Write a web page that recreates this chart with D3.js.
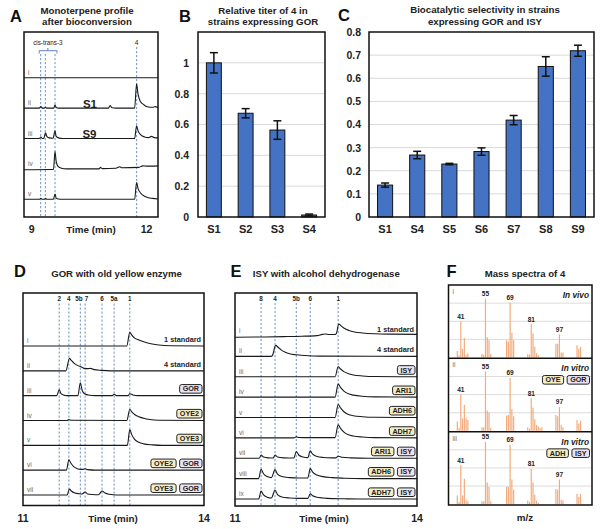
<!DOCTYPE html>
<html>
<head>
<meta charset="utf-8">
<script src="https://cdn.jsdelivr.net/npm/d3@7"></script>
<style>
  body { margin: 0; background: #fff; }
  svg { display: block; }
  text { font-family: "Liberation Sans", Arial, Helvetica, sans-serif; }
</style>
</head>
<body>
<svg id="fig" width="604" height="529"></svg>
<script>
// ---------- panel B: relative titer ----------
const titerCats = ["S1", "S2", "S3", "S4"];
const titerVals = [1.0, 0.673, 0.564, 0.013];
const titerErr = [0.066, 0.03, 0.06, 0.006];
const titerTicks = [0, 0.2, 0.4, 0.6, 0.8, 1];

// ---------- panel C: selectivity ----------
const selCats = ["S1", "S4", "S5", "S6", "S7", "S8", "S9"];
const selVals = [0.138, 0.268, 0.229, 0.283, 0.419, 0.651, 0.719];
const selErr = [0.009, 0.016, 0.003, 0.016, 0.02, 0.042, 0.024];
const selTicks = [0, 0.1, 0.2, 0.3, 0.4, 0.5, 0.6, 0.7, 0.8];

// ---------- panel A: chromatograms (time in min, signal in % of row spacing) ----------
const aRows = ["i", "ii", "iii", "iv", "v"];
const aMarks = [9.236, 9.356, 9.61, 11.743];
const aTraces = [
  [[8.8, 0], [12.3, 0]],
  [[8.8, 0], [9.2, 0], [9.24, 5], [9.28, 0], [9.33, 0], [9.36, 3], [9.39, 0], [9.58, 0], [9.61, 11], [9.64, 2], [9.7, 0],
   [11.0, 0], [11.05, 8], [11.1, 1], [11.2, 0], [11.69, 0], [11.74, 80], [11.78, 45], [11.84, 22], [11.92, 12], [12.0, 5],
   [12.1, 3], [12.18, 3], [12.22, 5], [12.3, 2]],
  [[8.8, 0], [9.2, 0], [9.24, 5], [9.28, 0], [9.32, 1], [9.36, 19], [9.4, 6], [9.46, 2], [9.56, 1], [9.61, 25], [9.64, 7],
   [9.7, 2], [9.8, 0], [11.69, 0], [11.74, 42], [11.78, 25], [11.85, 12], [11.95, 5], [12.05, 3], [12.13, 7], [12.2, 3], [12.3, 2]],
  [[8.8, -3], [9.5, -2], [9.57, -2], [9.61, 57], [9.64, 25], [9.69, 8], [9.78, 2], [9.9, 0], [10.5, 0], [10.76, 0], [10.8, 5],
   [10.84, 1], [11.2, 2], [11.3, 7], [11.35, 4], [11.8, 5], [11.9, 10], [12.0, 9], [12.3, 10]],
  [[8.8, 0], [9.2, 0], [9.24, 3], [9.28, 0], [9.33, 0], [9.36, 3], [9.4, 0], [9.57, 0], [9.61, 17], [9.64, 4], [9.7, 1],
   [9.8, 0], [11.69, 0], [11.74, 55], [11.78, 35], [11.85, 20], [11.95, 10], [12.05, 5], [12.15, 3], [12.3, 1]]
];

// ---------- panel D ----------
const dRows = ["i", "ii", "iii", "iv", "v", "vi", "vii"];
const dMarkLabels = ["2", "4", "5b", "7", "6", "5a", "1"];
const dMarks = [11.60, 11.76, 11.95, 12.03, 12.31, 12.51, 12.77];
const dSide = ["1 standard", "4 standard", "", "", "", "", ""];
const dBadges = [[], [], ["GOR"], ["OYE2"], ["OYE3"], ["OYE2", "GOR"], ["OYE3", "GOR"]];
const dTraces = [
  [[11, 0], [12.72, 0], [12.77, 55], [12.8, 45], [12.85, 32], [12.92, 24], [13.0, 17], [13.1, 10], [13.25, 4], [13.45, 1], [14, 0]],
  [[11, 0], [11.71, 0], [11.77, 50], [11.8, 42], [11.85, 30], [11.9, 22], [11.97, 15], [12.03, 9], [12.08, 9], [12.12, 10],
   [12.18, 5], [12.3, 2], [12.45, 0], [14, 0]],
  [[11, 0], [11.56, 0], [11.6, 25], [11.63, 8], [11.68, 2], [11.75, 0], [11.91, 0], [11.95, 52], [11.98, 22], [12.02, 8],
   [12.08, 3], [12.2, 0], [12.48, 0], [12.51, 6], [12.55, 0], [12.74, 0], [12.77, 8], [12.82, 3], [12.9, 0], [14, 0]],
  [[11, 0], [11.73, 0], [11.76, 4], [11.8, 1], [12.72, 0], [12.77, 44], [12.8, 36], [12.85, 24], [12.92, 15], [13.0, 9],
   [13.1, 4], [13.25, 1], [14, 0]],
  [[11, 0], [12.73, 0], [12.77, 64], [12.8, 44], [12.85, 24], [12.92, 12], [13.0, 6], [13.15, 2], [13.3, 0], [14, 0]],
  [[11, 0], [11.72, 0], [11.76, 42], [11.79, 30], [11.84, 14], [11.9, 6], [11.96, 3], [12.0, 3], [12.03, 6], [12.07, 2],
   [12.2, 0], [14, 0]],
  [[11, 0], [11.73, 0], [11.77, 24], [11.8, 16], [11.86, 8], [11.93, 5], [11.98, 4], [12.03, 12], [12.07, 4], [12.15, 2],
   [12.25, 1], [12.31, 16], [12.36, 8], [12.43, 3], [12.55, 0], [14, 0]]
];

// ---------- panel E ----------
const eRows = ["i", "ii", "iii", "iv", "v", "vi", "vii", "viii", "ix"];
const eMarkLabels = ["8", "4", "5b", "6", "1"];
const eMarks = [11.43, 11.66, 12.01, 12.24, 12.70];
const eSide = ["1 standard", "4 standard", "", "", "", "", "", "", ""];
const eBadges = [[], [], ["ISY"], ["ARI1"], ["ADH6"], ["ADH7"], ["ARI1", "ISY"], ["ADH6", "ISY"], ["ADH7", "ISY"]];
const eTraces = [
  [[11, -6], [11.4, -5], [11.8, -3], [12.1, -1], [12.35, 2], [12.44, 8], [12.49, 10], [12.55, 7], [12.64, 7], [12.67, 12],
   [12.71, 59], [12.75, 50], [12.8, 38], [12.88, 27], [12.97, 20], [13.1, 15], [13.3, 11], [13.6, 9], [14, 8]],
  [[11, 0], [11.6, 0], [11.62, 6], [11.67, 54], [11.71, 45], [11.76, 32], [11.83, 20], [11.9, 13], [12.0, 8], [12.15, 4],
   [12.4, 1], [14, 0]],
  [[11, 0], [12.65, 0], [12.7, 49], [12.74, 38], [12.8, 24], [12.87, 15], [12.95, 9], [13.1, 4], [13.3, 1], [14, 0]],
  [[11, 0], [12.65, 0], [12.7, 64], [12.74, 48], [12.8, 28], [12.87, 16], [12.95, 10], [13.1, 4], [13.3, 1], [14, 0]],
  [[11, 0], [12.65, 0], [12.7, 64], [12.74, 47], [12.8, 27], [12.87, 15], [12.95, 9], [13.1, 4], [13.3, 1], [14, 0]],
  [[11, 0], [11.97, 0], [12.01, 5], [12.06, 2], [12.2, 1], [12.65, 1], [12.7, 64], [12.74, 47], [12.8, 27], [12.87, 15],
   [12.95, 9], [13.1, 4], [13.3, 1], [14, 0]],
  [[11, 0], [11.4, 0], [11.43, 16], [11.47, 6], [11.55, 2], [11.63, 1], [11.66, 16], [11.7, 6], [11.8, 2], [11.97, 1],
   [12.01, 33], [12.05, 16], [12.12, 6], [12.2, 3], [12.24, 36], [12.28, 20], [12.35, 9], [12.45, 4], [12.6, 2], [12.66, 2],
   [12.7, 10], [12.76, 5], [12.9, 2], [13.2, 0], [14, 0]],
  [[11, 0], [11.39, 0], [11.43, 46], [11.47, 24], [11.53, 10], [11.6, 5], [11.66, 44], [11.7, 22], [11.77, 10], [11.9, 5],
   [12.05, 3], [12.2, 3], [12.24, 49], [12.28, 32], [12.35, 18], [12.45, 10], [12.6, 5], [12.8, 2], [13.1, 0], [14, 0]],
  [[11, 0], [11.39, 0], [11.43, 39], [11.47, 20], [11.53, 9], [11.6, 5], [11.66, 44], [11.7, 22], [11.77, 10], [11.9, 5],
   [12.05, 3], [12.2, 3], [12.24, 25], [12.28, 16], [12.35, 9], [12.45, 5], [12.6, 2], [12.8, 1], [13.1, 0], [14, 0]]
];

// ---------- panel F: mass spectra (relative abundance) ----------
const mzVals = [39, 40, 41, 42, 43, 44, 45, 53, 54, 55, 56, 57, 58, 67, 68, 69, 70, 71, 79, 80, 81, 82, 83, 84, 85, 86, 87,
  95, 96, 97, 98, 99, 107, 108, 109];
const msVivo = [.09, .03, .50, .12, .27, .04, .06, .05, .04, .81, .28, .24, .05, .24, .22, .76, .34, .24, .05, .04, .46, .33,
  .15, .06, .03, 0, 0, .19, .19, .32, .07, .07, .17, .12, .15];
const msOye = [.13, .04, .50, .17, .36, .18, .15, .05, .05, .82, .28, .25, .04, .21, .22, .73, .30, .20, .05, .03, .45, .32,
  .16, .08, .06, .04, .05, .22, .20, .33, .08, .05, .15, .10, .14];
const msAdh = [.12, .03, .54, .12, .35, .05, .04, .04, .04, .86, .30, .24, .04, .24, .24, .82, .34, .20, .05, .03, .49, .30,
  .13, .05, .02, 0, 0, .21, .20, .34, .06, .05, .14, .10, .14];
const msLabeled = [41, 55, 69, 81, 97];
const msRows = ["i", "ii", "iii"];
const msMode = ["In vivo", "In vitro", "In vitro"];
const msBadges = [[], ["OYE", "GOR"], ["ADH", "ISY"]];

const BLUE = "#5b84c4";
const svg = d3.select("#fig");

function letter(x, y, t) {
  svg.append("text").attr("x", x).attr("y", y).attr("font-size", 16.5).attr("font-weight", "bold").attr("fill", "#111").text(t);
}

function title(cx, y, lines, size) {
  lines.forEach((l, i) => {
    svg.append("text").attr("x", cx).attr("y", y + i * 11.5).attr("text-anchor", "middle")
      .attr("font-size", size).attr("font-weight", "bold").attr("fill", "#222").text(l);
  });
}

function badgeColor(label) {
  return /^(GOR|ISY)/.test(label) ? "#e9e3f3" : "#f3eec6";
}

// draws a row of tags from right to left
function badges(g, xr, cy, labels) {
  let right = xr;
  labels.slice().reverse().forEach(label => {
    const bg = g.append("g");
    const r = bg.append("rect");
    const t = bg.append("text").attr("x", right - 3).attr("y", cy + 2.6).attr("text-anchor", "end")
      .attr("font-size", 7.2).attr("font-weight", "bold").attr("fill", "#222").text(label);
    const w = t.node().getComputedTextLength() + 6;
    r.attr("x", right - w).attr("y", cy - 4.3).attr("width", w).attr("height", 8.6).attr("rx", 2)
      .attr("fill", badgeColor(label)).attr("stroke", "#222").attr("stroke-width", 1);
    right = right - w - 3.5;
  });
}

function bars(o) {
  const g = svg.append("g");
  const x = d3.scaleBand().domain(o.cats).range([o.x0, o.x1]).paddingInner(0.53).paddingOuter(0.265);
  const y = d3.scaleLinear().domain([0, o.max]).range([o.y1, o.y0]);

  g.selectAll("line.grid").data(o.grid).join("line")
    .attr("x1", o.x0).attr("x2", o.x1)
    .attr("y1", d => y(d)).attr("y2", d => y(d))
    .attr("stroke", "#d9d9d9").attr("stroke-width", 1);

  g.selectAll("rect.bar").data(o.vals).join("rect")
    .attr("x", (d, i) => x(o.cats[i])).attr("y", d => y(d))
    .attr("width", x.bandwidth()).attr("height", d => y(0) - y(d))
    .attr("fill", "#4472c4").attr("stroke", "#111").attr("stroke-width", 1);

  const eg = g.selectAll("g.err").data(o.vals).join("g")
    .attr("transform", (d, i) => `translate(${x(o.cats[i]) + x.bandwidth() / 2},0)`);
  eg.append("line").attr("y1", (d, i) => y(d + o.err[i])).attr("y2", (d, i) => y(d - o.err[i]))
    .attr("stroke", "#111").attr("stroke-width", 1.5);
  [1, -1].forEach(s => {
    eg.append("line").attr("x1", -4).attr("x2", 4)
      .attr("y1", (d, i) => y(d + s * o.err[i])).attr("y2", (d, i) => y(d + s * o.err[i]))
      .attr("stroke", "#111").attr("stroke-width", 1.5);
  });

  g.append("g").attr("transform", `translate(${o.x0},0)`)
    .call(d3.axisLeft(y).tickValues(o.ticks).tickSize(0).tickPadding(o.pad).tickFormat(d => String(+d.toFixed(1))))
    .call(a => a.select(".domain").remove())
    .selectAll("text").attr("font-size", 10.5).attr("font-weight", "bold").attr("fill", "#222")
    .attr("font-family", "Liberation Sans, Arial, sans-serif");

  g.append("g").attr("transform", `translate(0,${o.y1})`)
    .call(d3.axisBottom(x).tickSize(0).tickPadding(8))
    .call(a => a.select(".domain").remove())
    .selectAll("text").attr("font-size", 11).attr("font-weight", "bold").attr("fill", "#222")
    .attr("font-family", "Liberation Sans, Arial, sans-serif");

  g.append("rect").attr("x", o.x0).attr("y", o.y0).attr("width", o.x1 - o.x0).attr("height", o.y1 - o.y0)
    .attr("fill", "none").attr("stroke", "#111").attr("stroke-width", 1.5);
}

function chrom(o) {
  const g = svg.append("g");
  const x = d3.scaleLinear().domain(o.domain).range([o.x0, o.x1]);
  const row = d3.scalePoint().domain(o.rows).range(o.rowRange);
  const amp = d3.scaleLinear().domain([0, 100]).range([0, row.step()]);

  const clipId = "clip" + o.id;
  svg.append("clipPath").attr("id", clipId).append("rect")
    .attr("x", o.x0).attr("y", o.y0).attr("width", o.x1 - o.x0).attr("height", o.y1 - o.y0);

  g.selectAll("line.mark").data(o.marks).join("line")
    .attr("x1", d => x(d)).attr("x2", d => x(d))
    .attr("y1", (d, i) => Array.isArray(o.markTop) ? o.markTop[i] : o.markTop).attr("y2", o.y1)
    .attr("stroke", BLUE).attr("stroke-width", 0.9).attr("stroke-dasharray", "2.2,1.8");

  if (o.markLabels) {
    g.selectAll("text.mark").data(o.markLabels).join("text")
      .attr("x", (d, i) => x(o.marks[i]) + (o.markDx ? o.markDx[i] : 0)).attr("y", o.markLabelY)
      .attr("text-anchor", "middle")
      .attr("font-size", 6.3).attr("font-weight", "bold").attr("fill", "#222").text(d => d);
  }

  const tg = g.append("g").attr("clip-path", `url(#${clipId})`);
  o.traces.forEach((tr, i) => {
    const base = row(o.rows[i]);
    const line = d3.line().x(d => x(d[0])).y(d => base - amp(d[1])).curve(d3.curveMonotoneX);
    tg.append("path").attr("d", line(tr)).attr("fill", "none")
      .attr("stroke", "#1a1a1a").attr("stroke-width", 1.1);
  });

  g.selectAll("text.row").data(o.rows).join("text")
    .attr("x", o.x0 + 4).attr("y", d => row(d) - 3)
    .attr("font-size", 6.5).attr("fill", "#666").text(d => d);

  if (o.side) {
    o.side.forEach((s, i) => {
      if (!s) return;
      g.append("text").attr("x", o.x1 - 3).attr("y", row(o.rows[i]) - 4).attr("text-anchor", "end")
        .attr("font-size", 7.3).attr("font-weight", "bold").attr("fill", "#222").text(s);
    });
  }
  if (o.badges) {
    o.badges.forEach((b, i) => {
      if (b.length) badges(g, o.x1 - 2, row(o.rows[i]) - 6.8, b);
    });
  }

  g.selectAll("text.tick").data(o.ticks).join("text")
    .attr("x", d => x(d)).attr("y", o.y1 + 16).attr("text-anchor", "middle")
    .attr("font-size", 10.5).attr("font-weight", "bold").attr("fill", "#222").text(d => d);
  g.append("text").attr("x", o.axisTitleX).attr("y", o.y1 + 16).attr("text-anchor", "middle")
    .attr("font-size", 9.8).attr("font-weight", "bold").attr("fill", "#222").text("Time (min)");

  g.append("rect").attr("x", o.x0).attr("y", o.y0).attr("width", o.x1 - o.x0).attr("height", o.y1 - o.y0)
    .attr("fill", "none").attr("stroke", "#111").attr("stroke-width", 1.5);
  return { x, row };
}

// ---- A ----
letter(10, 22, "A");
title(87, 13.5, ["Monoterpene profile", "after bioconversion"], 9.7);
const A = chrom({
  id: "A", x0: 24, x1: 158, y0: 32, y1: 217, domain: [8.8, 12.3],
  rows: aRows, rowRange: [77.7, 199.3], traces: aTraces,
  marks: aMarks, markTop: [54, 54, 54, 47],
  ticks: [9, 12], axisTitleX: 91
});
svg.append("path")
  .attr("d", `M${A.x(aMarks[0]) - 1.5},53.5V50.7H${A.x(aMarks[2]) + 2}V53.5M${(A.x(aMarks[0]) + A.x(aMarks[2])) / 2},50.7V48`)
  .attr("fill", "none").attr("stroke", BLUE).attr("stroke-width", 1);
svg.append("text").attr("x", (A.x(aMarks[0]) + A.x(aMarks[2])) / 2).attr("y", 45).attr("text-anchor", "middle")
  .attr("font-size", 6.3).attr("fill", "#222").text("cis-trans-3");
svg.append("text").attr("x", A.x(aMarks[3])).attr("y", 45).attr("text-anchor", "middle")
  .attr("font-size", 6.6).attr("fill", "#222").text("4");
svg.append("text").attr("x", 90).attr("y", 107.5).attr("text-anchor", "middle")
  .attr("font-size", 11.5).attr("font-weight", "bold").attr("fill", "#222").text("S1");
svg.append("text").attr("x", 89.5).attr("y", 137.5).attr("text-anchor", "middle")
  .attr("font-size", 11.5).attr("font-weight", "bold").attr("fill", "#222").text("S9");

// ---- B ----
letter(179, 22, "B");
title(263, 13.5, ["Relative titer of 4 in", "strains expressing GOR"], 9.7);
bars({
  cats: titerCats, vals: titerVals, err: titerErr, x0: 198, x1: 325, y0: 32, y1: 217,
  max: 1.2, ticks: titerTicks, grid: [0.2, 0.4, 0.6, 0.8, 1.0], pad: 9
});

// ---- C ----
letter(338, 21, "C");
title(485, 13, ["Biocatalytic selectivity in strains", "expressing GOR and ISY"], 9.7);
bars({
  cats: selCats, vals: selVals, err: selErr, x0: 369, x1: 594, y0: 32, y1: 217,
  max: 0.8, ticks: selTicks, grid: [0.1, 0.2, 0.3, 0.4, 0.5, 0.6, 0.7], pad: 8
});

// ---- D ----
letter(14, 277, "D");
title(116.5, 276.7, ["GOR with old yellow enzyme"], 9.6);
chrom({
  id: "D", x0: 23, x1: 204, y0: 293, y1: 505.5, domain: [11, 14],
  rows: dRows, rowRange: [346, 495], traces: dTraces,
  marks: dMarks, markLabels: dMarkLabels, markDx: [0, 0, -1.3, 1.3, 0, 0, 0], markTop: 303.5, markLabelY: 301,
  side: dSide, badges: dBadges, ticks: [11, 14], axisTitleX: 113
});

// ---- E ----
letter(230.5, 277.3, "E");
title(326.3, 276.7, ["ISY with alcohol dehydrogenase"], 9.6);
chrom({
  id: "E", x0: 235, x1: 417, y0: 293, y1: 506, domain: [11, 14],
  rows: eRows, rowRange: [336, 499], traces: eTraces,
  marks: eMarks, markLabels: eMarkLabels, markTop: 303, markLabelY: 300.5,
  side: eSide, badges: eBadges, ticks: [11, 14], axisTitleX: 324
});

// ---- F ----
letter(446.5, 276.7, "F");
title(525, 276.7, ["Mass spectra of 4"], 9.6);
(function () {
  const x0 = 448.5, x1 = 592, y0 = 285, y1 = 505;
  const g = svg.append("g");
  const x = d3.scaleLinear().domain([34, 115.5]).range([x0, x1]);
  const band = d3.scaleBand().domain(msRows).range([y0, y1]);
  const spectra = [msVivo, msOye, msAdh];
  msRows.forEach((r, k) => {
    const top = band(r), bot = top + band.bandwidth();
    const y = d3.scaleLinear().domain([0, 1]).range([bot - 0.8, top]);
    g.selectAll(null).data([0.25, 0.5, 0.75]).join("line")
      .attr("x1", x0).attr("x2", x1).attr("y1", d => y(d)).attr("y2", d => y(d))
      .attr("stroke", "#dcdcdc").attr("stroke-width", 1);
    g.selectAll(null).data(spectra[k]).join("line")
      .attr("x1", (d, i) => x(mzVals[i])).attr("x2", (d, i) => x(mzVals[i]))
      .attr("y1", y(0)).attr("y2", d => y(d))
      .attr("stroke", "#f2ab7c").attr("stroke-width", 1.2);
    g.selectAll(null).data(msLabeled).join("text")
      .attr("x", d => x(d)).attr("y", d => y(spectra[k][mzVals.indexOf(d)]) - 2.5)
      .attr("text-anchor", "middle").attr("font-size", 6.5).attr("font-weight", "bold").attr("fill", "#222")
      .text(d => d);
    g.append("text").attr("x", x0 + 4).attr("y", top + 9).attr("font-size", 6.5).attr("fill", "#666").text(r);
    g.append("text").attr("x", x1 - 3).attr("y", top + 13).attr("text-anchor", "end")
      .attr("font-size", 8.3).attr("font-weight", "bold").attr("font-style", "italic").attr("fill", "#222").text(msMode[k]);
    if (msBadges[k].length) badges(g, x1 - 2.5, top + 21.5, msBadges[k]);
    if (k > 0) g.append("line").attr("x1", x0).attr("x2", x1).attr("y1", top).attr("y2", top)
      .attr("stroke", "#111").attr("stroke-width", 1.5);
  });
  g.append("rect").attr("x", x0).attr("y", y0).attr("width", x1 - x0).attr("height", y1 - y0)
    .attr("fill", "none").attr("stroke", "#111").attr("stroke-width", 1.5);
  g.append("text").attr("x", 525).attr("y", 521).attr("text-anchor", "middle")
    .attr("font-size", 9.8).attr("font-weight", "bold").attr("fill", "#222").text("m/z");
})();
</script>
</body>
</html>
